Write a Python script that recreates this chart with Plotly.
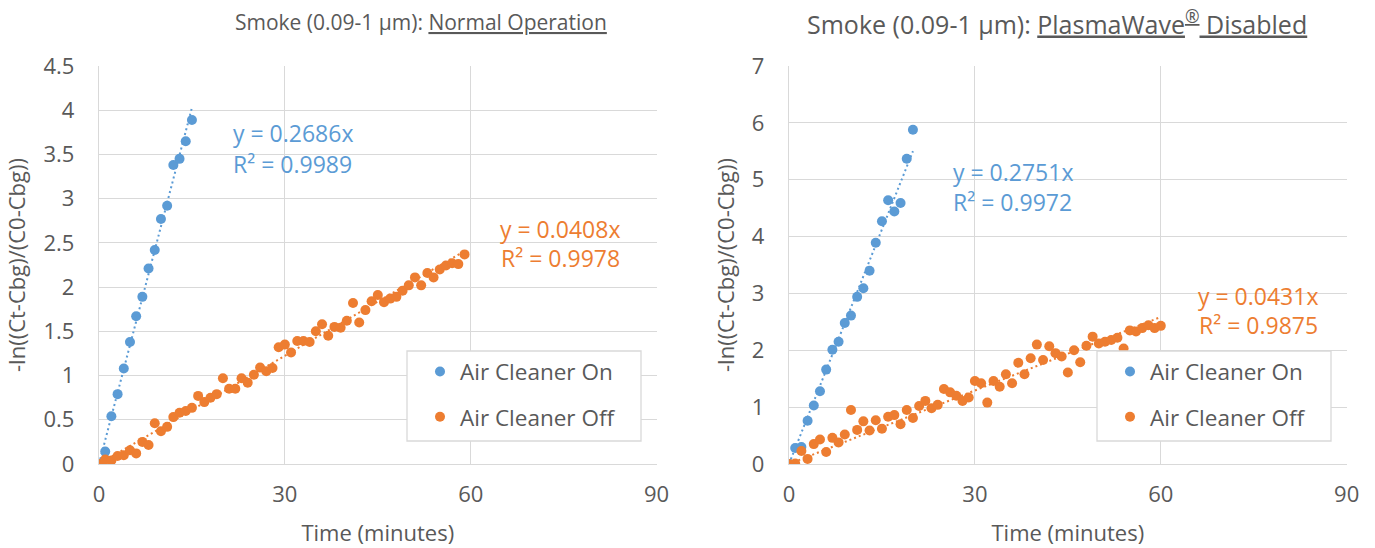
import plotly.graph_objects as go

# ---------------- data ----------------
time_on_normal = list(range(0, 16))
on_normal = [0, 0.14, 0.54, 0.79, 1.08, 1.38, 1.67, 1.89, 2.21, 2.42, 2.77, 2.92,
             3.38, 3.45, 3.65, 3.89]
time_off_normal = list(range(0, 60))
off_normal = [0, 0.05, 0.04, 0.09, 0.10, 0.155, 0.12, 0.25, 0.215, 0.46, 0.37, 0.42,
              0.53, 0.58, 0.60, 0.635, 0.77, 0.70, 0.75, 0.79, 0.97, 0.85, 0.85, 0.97,
              0.92, 1.01, 1.09, 1.05, 1.085, 1.32, 1.35, 1.26, 1.39, 1.39, 1.38, 1.50,
              1.58, 1.45, 1.55, 1.54, 1.62, 1.82, 1.60, 1.74, 1.84, 1.91, 1.83, 1.87,
              1.89, 1.96, 2.02, 2.11, 2.02, 2.16, 2.11, 2.20, 2.245, 2.27, 2.26, 2.37]

time_on_disabled = list(range(0, 21))
on_disabled = [0, 0.28, 0.30, 0.76, 1.03, 1.28, 1.66, 2.01, 2.15, 2.48, 2.61, 2.94,
               3.09, 3.40, 3.89, 4.27, 4.64, 4.44, 4.59, 5.37, 5.88]
time_off_disabled = list(range(0, 61))
off_disabled = [0, 0.01, 0.23, 0.09, 0.35, 0.43, 0.21, 0.46, 0.38, 0.52, 0.95, 0.60,
                0.75, 0.59, 0.77, 0.62, 0.83, 0.86, 0.70, 0.95, 0.81, 1.02, 1.11, 0.98,
                1.04, 1.32, 1.26, 1.20, 1.11, 1.17, 1.46, 1.42, 1.08, 1.46, 1.36, 1.58,
                1.42, 1.78, 1.58, 1.86, 2.10, 1.83, 2.07, 1.95, 1.89, 1.61, 2.00, 1.79,
                2.08, 2.24, 2.12, 2.15, 2.18, 2.22, 2.03, 2.35, 2.33, 2.39, 2.44, 2.39,
                2.43]

# trendline slopes (through origin) and R² as shown on the chart
slopes_normal = [0.2686, 0.0408]
r2_normal = [0.9989, 0.9978]
slopes_disabled = [0.2751, 0.0431]
r2_disabled = [0.9972, 0.9875]

series_names = ["Air Cleaner On", "Air Cleaner Off"]
x_ticks = [0, 30, 60, 90]
y_ticks_normal = [0, 0.5, 1, 1.5, 2, 2.5, 3, 3.5, 4, 4.5]
y_ticks_disabled = [0, 1, 2, 3, 4, 5, 6, 7]

# ---------------- style ----------------
BLUE = "#5B9BD5"
ORANGE = "#ED7D31"
GREY_TXT = "#595959"
GRID = "#D9D9D9"
FONT = "Open Sans"
W, H = 1375, 548

fig = go.Figure()

panels = [
    dict(xa="x", ya="y", legend="legend",
         t_on=time_on_normal, on=on_normal, t_off=time_off_normal, off=off_normal,
         slopes=slopes_normal, r2=r2_normal),
    dict(xa="x2", ya="y2", legend="legend2",
         t_on=time_on_disabled, on=on_disabled, t_off=time_off_disabled, off=off_disabled,
         slopes=slopes_disabled, r2=r2_disabled),
]

for p in panels:
    for (tt, vv, col, slope) in [
        (p["t_on"], p["on"], BLUE, p["slopes"][0]),
        (p["t_off"], p["off"], ORANGE, p["slopes"][1]),
    ]:
        tmax = max(tt)
        fig.add_trace(go.Scatter(
            x=[0, tmax], y=[0, slope * tmax], mode="lines",
            line=dict(color=col, width=2, dash="2px,3px"),
            xaxis=p["xa"], yaxis=p["ya"], showlegend=False, hoverinfo="skip"))
    fig.add_trace(go.Scatter(
        x=p["t_on"], y=p["on"], mode="markers", name=series_names[0],
        marker=dict(color=BLUE, size=10), xaxis=p["xa"], yaxis=p["ya"],
        legend=p["legend"], legendgroup="on"))
    fig.add_trace(go.Scatter(
        x=p["t_off"], y=p["off"], mode="markers", name=series_names[1],
        marker=dict(color=ORANGE, size=10), xaxis=p["xa"], yaxis=p["ya"],
        legend=p["legend"], legendgroup="off"))

ydom = [1 - 464 / H, 1 - 66 / H]
axis_common = dict(
    showgrid=True, gridcolor=GRID, gridwidth=1.3, zeroline=False,
    showline=True, linecolor=GRID, linewidth=1.3, ticks="", automargin=False,
    tickfont=dict(family=FONT, size=22, color=GREY_TXT),
    title_font=dict(family=FONT, size=22, color=GREY_TXT),
)

legend_common = dict(
    xanchor="left", yanchor="top", bgcolor="rgba(0,0,0,0)", borderwidth=0,
    font=dict(family=FONT, size=22.5, color=GREY_TXT), tracegroupgap=13, itemwidth=30,
)

fig.update_layout(
    width=W, height=H,
    margin=dict(l=0, r=0, t=0, b=0, autoexpand=False),
    paper_bgcolor="white", plot_bgcolor="white",
    font=dict(family=FONT, color=GREY_TXT),
    xaxis=dict(domain=[99 / W, 656.6 / W], range=[0, 90], tickvals=x_ticks,
               anchor="y", ticklabelstandoff=10, title=dict(text="Time (minutes)", standoff=19),
               **axis_common),
    yaxis=dict(domain=ydom, range=[0, 4.5], tickvals=y_ticks_normal, anchor="x",
               ticklabelstandoff=19, title=dict(text="-ln((Ct-Cbg)/(C0-Cbg))", standoff=11),
               **axis_common),
    xaxis2=dict(domain=[789 / W, 1346.7 / W], range=[0, 90], tickvals=x_ticks,
                anchor="y2", ticklabelstandoff=10, title=dict(text="Time (minutes)", standoff=19),
                **axis_common),
    yaxis2=dict(domain=ydom, range=[0, 7], tickvals=y_ticks_disabled, anchor="x2",
                ticklabelstandoff=19, title=dict(text="-ln((Ct-Cbg)/(C0-Cbg))", standoff=11),
                **axis_common),
    legend=dict(x=420 / W, y=1 - 350.4 / H, **legend_common),
    legend2=dict(x=1110 / W, y=1 - 350.4 / H, **legend_common),
    showlegend=True,
)

# legend boxes (white, drawn over the points like the original)
for (x0, x1) in [(407, 641), (1097, 1331)]:
    fig.add_shape(type="rect", xref="paper", yref="paper",
                  x0=x0 / W, x1=x1 / W, y0=1 - 441 / H, y1=1 - 351 / H,
                  fillcolor="white", line=dict(color=GRID, width=1.3), layer="above")

ann_font = 23
annotations = [
    # panel titles
    dict(text="Smoke (0.09-1 µm): <u>Normal Operation</u>", x=420.5 / W, y=1 - 22 / H,
         xref="paper", yref="paper", xanchor="center", yanchor="middle", showarrow=False,
         font=dict(family=FONT, size=21, color=GREY_TXT)),
    dict(text="Smoke (0.09-1 µm): <u>PlasmaWave<sup>®</sup> Disabled</u>", x=1057 / W, y=1 - 22 / H,
         xref="paper", yref="paper", xanchor="center", yanchor="middle", showarrow=False,
         font=dict(family=FONT, size=25, color=GREY_TXT)),
    # trendline labels, left panel
    dict(text=f"y = {slopes_normal[0]}x", x=21.3, y=3.74, xref="x", yref="y",
         xanchor="left", showarrow=False, font=dict(family=FONT, size=ann_font, color=BLUE)),
    dict(text=f"R² = {r2_normal[0]}", x=21.3, y=3.39, xref="x", yref="y",
         xanchor="left", showarrow=False, font=dict(family=FONT, size=ann_font, color=BLUE)),
    dict(text=f"y = {slopes_normal[1]}x", x=84.4, y=2.66, xref="x", yref="y",
         xanchor="right", showarrow=False, font=dict(family=FONT, size=ann_font, color=ORANGE)),
    dict(text=f"R² = {r2_normal[1]}", x=84.4, y=2.33, xref="x", yref="y",
         xanchor="right", showarrow=False, font=dict(family=FONT, size=ann_font, color=ORANGE)),
    # trendline labels, right panel
    dict(text=f"y = {slopes_disabled[0]}x", x=26.1, y=5.14, xref="x2", yref="y2",
         xanchor="left", showarrow=False, font=dict(family=FONT, size=ann_font, color=BLUE)),
    dict(text=f"R² = {r2_disabled[0]}", x=26.1, y=4.60, xref="x2", yref="y2",
         xanchor="left", showarrow=False, font=dict(family=FONT, size=ann_font, color=BLUE)),
    dict(text=f"y = {slopes_disabled[1]}x", x=85.7, y=2.95, xref="x2", yref="y2",
         xanchor="right", showarrow=False, font=dict(family=FONT, size=ann_font, color=ORANGE)),
    dict(text=f"R² = {r2_disabled[1]}", x=85.7, y=2.44, xref="x2", yref="y2",
         xanchor="right", showarrow=False, font=dict(family=FONT, size=ann_font, color=ORANGE)),
]
fig.update_layout(annotations=annotations)

# remove the browser's default 8px page margin so the figure sits at (0, 0)
fig.write_html("out.html", config={"displayModeBar": False},
               post_script="document.body.style.margin='0';document.body.style.overflow='hidden';")
